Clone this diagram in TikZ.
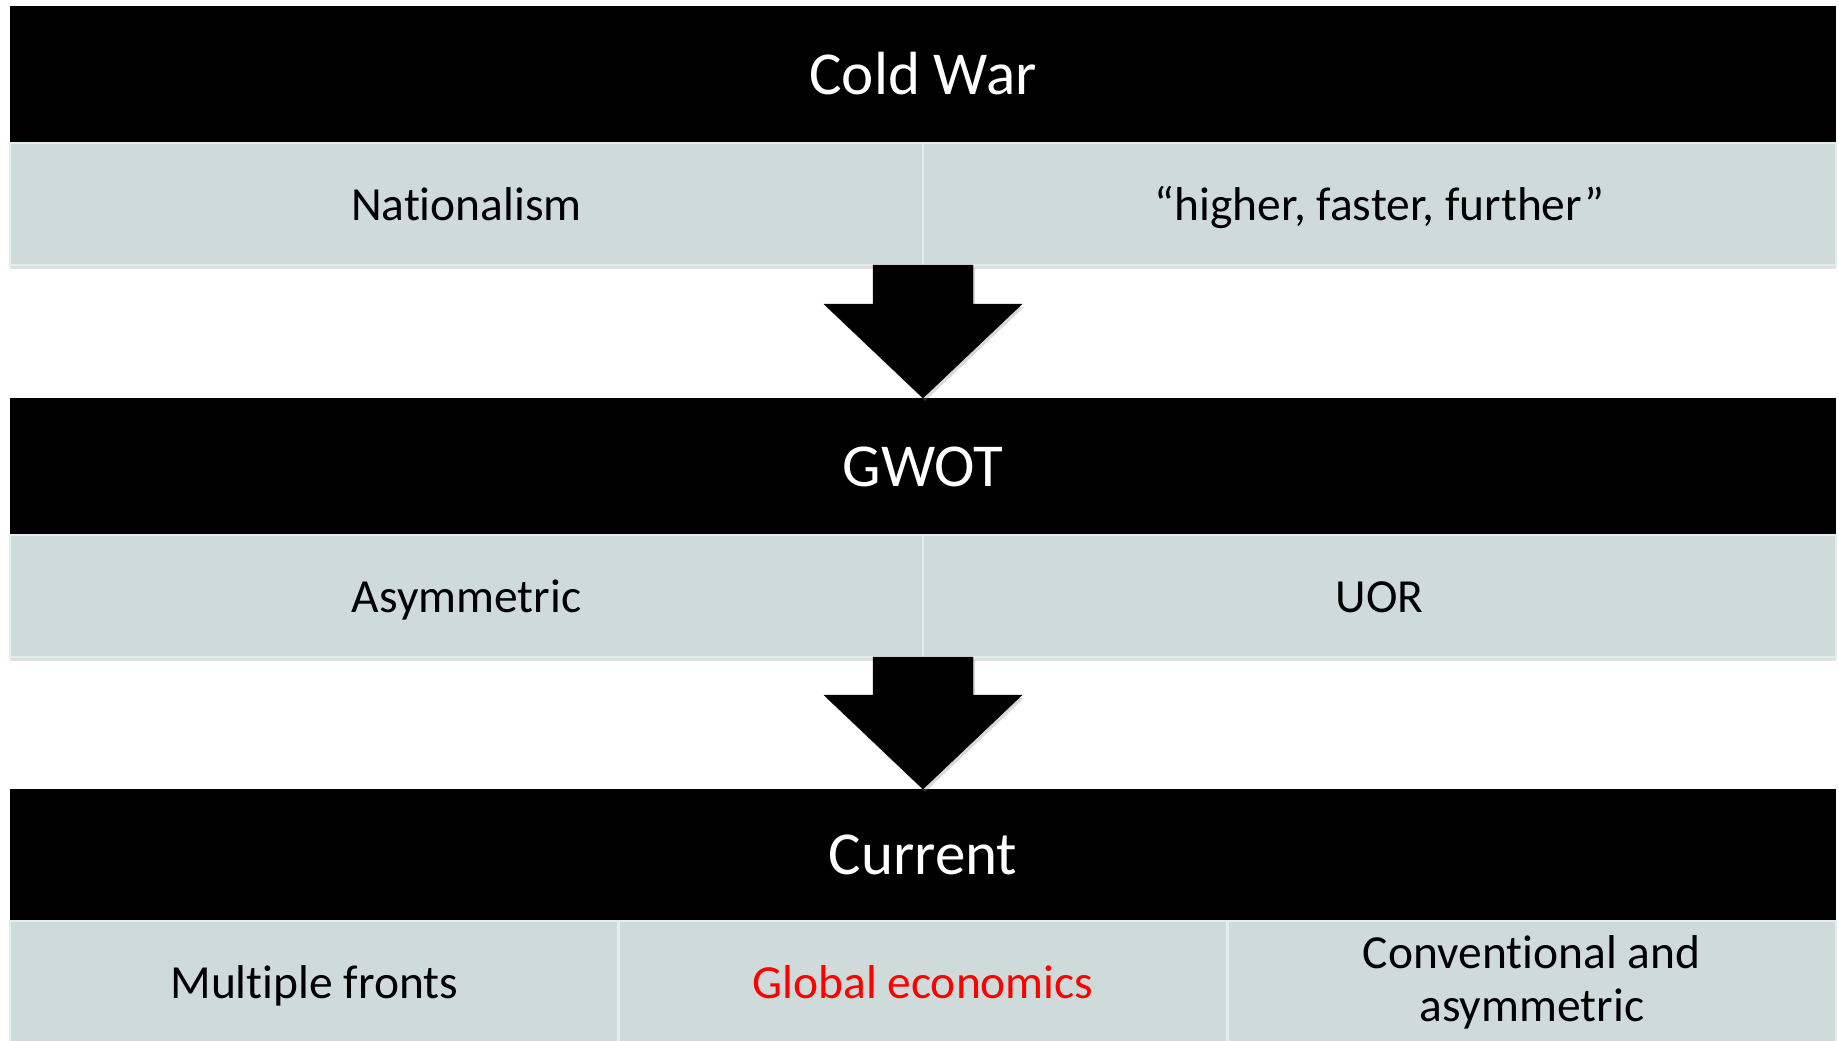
\documentclass[tikz,border=0pt]{standalone}
\usepackage{fontspec}
\setmainfont{Carlito}[Ligatures={NoCommon,NoContextual}]
\usetikzlibrary{positioning, calc, shadows}
\definecolor{cellfill}{RGB}{207,219,219}
\definecolor{cellline}{RGB}{226,237,237}

\begin{document}
\begin{tikzpicture}[x=1pt, y=1pt]
    \tikzstyle{bar} = [rectangle, minimum width=1826pt, minimum height=137pt, inner sep=0pt, outer sep=0pt, text centered, fill=black, text=white, text height=46pt, text depth=7pt, font=\fontsize{61}{70}\selectfont]
\tikzstyle{cell} = [rectangle, minimum height=122pt, inner sep=0pt, outer sep=0pt, text centered, draw=cellline, line width=2.5pt, fill=cellfill, font=\fontsize{47.5}{53}\selectfont, drop shadow={shadow xshift=0pt, shadow yshift=-4pt, opacity=0.25}]
\tikzstyle{oneline} = [text height=38pt, text depth=5pt]
\tikzstyle{half} = [cell, oneline, minimum width=913pt]
\tikzstyle{third} = [cell, minimum width=608.67pt]
\tikzstyle{blockarrow} = [fill=black, drop shadow={shadow xshift=2pt, shadow yshift=-3pt, opacity=0.3},
  to path={let \p1=(\tikztostart), \p2=(\tikztotarget) in
    (\x1-50pt,\y1) -- (\x1+50pt,\y1) -- (\x1+50pt,\y2+94pt) -- (\x1+99pt,\y2+94pt)
    -- (\x2,\y2) -- (\x1-99pt,\y2+94pt) -- (\x1-50pt,\y2+94pt) -- cycle}]
    \useasboundingbox (0,0) rectangle (1839,-1041);

    \node (cw) [bar] at (923,-74.5) {Cold War};
\node (nat) [half, anchor=north west] at (cw.south west) {Nationalism};
\node (hff) [half, anchor=north east] at (cw.south east) {“higher, faster, further”};

\node (gwot) [bar, below=255pt of cw] {GWOT};
\node (asy) [half, anchor=north west] at (gwot.south west) {Asymmetric};
\node (uor) [half, anchor=north east] at (gwot.south east) {UOR};

\node (cur) [bar, below=254pt of gwot, minimum height=132pt] {Current};
\node (mul) [third, oneline, anchor=north west] at (cur.south west) {Multiple fronts};
\node (glo) [third, oneline, right=0pt of mul, text=red] {Global economics};
\node (con) [third, right=0pt of glo, align=center] {Conventional and\\asymmetric};

\draw[blockarrow] (nat.south east) to (gwot.north);
\draw[blockarrow] (asy.south east) to (cur.north);
  \end{tikzpicture}
\end{document}
